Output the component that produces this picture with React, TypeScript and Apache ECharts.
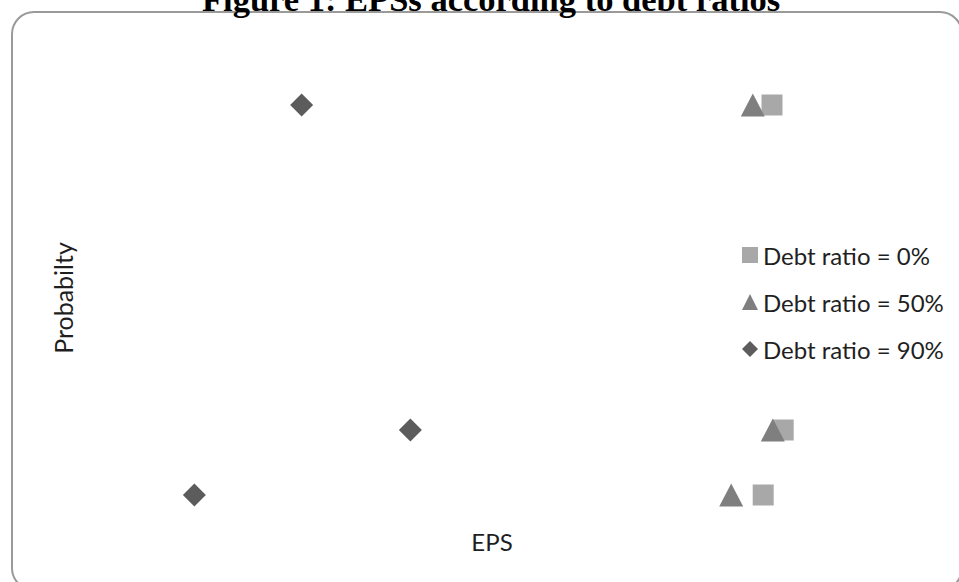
import React, { useEffect, useRef } from "react";
import * as echarts from "echarts";

const titleText = "Figure 1: EPSs according to debt ratios";
const xAxisTitle = "EPS";
const yAxisTitle = "Probabilty";
const seriesNames = ["Debt ratio = 0%", "Debt ratio = 50%", "Debt ratio = 90%"];
const probability = [0.875, 0.25, 0.125];
const eps0 = [8.4, 8.54, 8.29];
const eps50 = [8.16, 8.41, 7.89];
const eps90 = [2.52, 3.88, 1.18];

const colors = ["#a8a8a8", "#7f7f7f", "#5c5c5c"];
const symbols = ["rect", "triangle", "diamond"];
const symbolSizes: any[] = [21, [24, 23], 23];
const epsSets = [eps0, eps50, eps90];

const FONT = "Lato, 'Open Sans', sans-serif";

export default function App() {
  const ref = useRef<HTMLDivElement>(null);
  useEffect(() => {
    if (!ref.current) return;
    const chart = echarts.init(ref.current, null, { renderer: "svg" });
    chart.setOption({
      animation: false,
      backgroundColor: "#ffffff",
      title: {
        text: titleText,
        left: 202,
        top: -19,
        padding: 0,
        textStyle: {
          fontFamily: "'Liberation Serif', 'Times New Roman', serif",
          fontWeight: "bold",
          fontSize: 34.5,
          color: "#000000",
        },
      },
      grid: { left: 100, right: 59, top: 40, bottom: 22 },
      xAxis: {
        type: "value",
        min: 0,
        max: 10,
        axisLine: { show: false },
        axisTick: { show: false },
        axisLabel: { show: false },
        splitLine: { show: false },
      },
      yAxis: {
        type: "value",
        min: 0,
        max: 1,
        axisLine: { show: false },
        axisTick: { show: false },
        axisLabel: { show: false },
        splitLine: { show: false },
      },
      legend: {
        orient: "vertical",
        left: 742,
        top: 242,
        padding: 0,
        itemWidth: 16,
        itemHeight: 16,
        itemGap: 21,
        textStyle: { fontFamily: FONT, fontSize: 24, color: "#1f1f1f", lineHeight: 26 },
        data: seriesNames,
      },
      graphic: [
        {
          type: "rect",
          shape: { x: 12, y: 12, width: 950, height: 578, r: 22 },
          style: { fill: "none", stroke: "#9a9a9a", lineWidth: 2 },
          silent: true,
        },
        {
          type: "text",
          x: 63,
          y: 298,
          rotation: Math.PI / 2,
          style: {
            text: yAxisTitle,
            align: "center",
            verticalAlign: "middle",
            fontFamily: FONT,
            fontSize: 25,
            fill: "#1f1f1f",
          },
        },
        {
          type: "text",
          x: 492,
          y: 541,
          style: {
            text: xAxisTitle,
            align: "center",
            verticalAlign: "middle",
            fontFamily: FONT,
            fontSize: 24,
            fill: "#1f1f1f",
          },
        },
      ],
      series: seriesNames.map((name, i) => ({
        name,
        type: "scatter",
        symbol: symbols[i],
        symbolSize: symbolSizes[i],
        itemStyle: { color: colors[i], opacity: 1 },
        data: epsSets[i].map((x, j) => [x, probability[j]]),
      })),
    });
    return () => chart.dispose();
  }, []);
  return <div ref={ref} style={{ width: 959, height: 582, position: "absolute", left: 0, top: 0 }} />;
}
